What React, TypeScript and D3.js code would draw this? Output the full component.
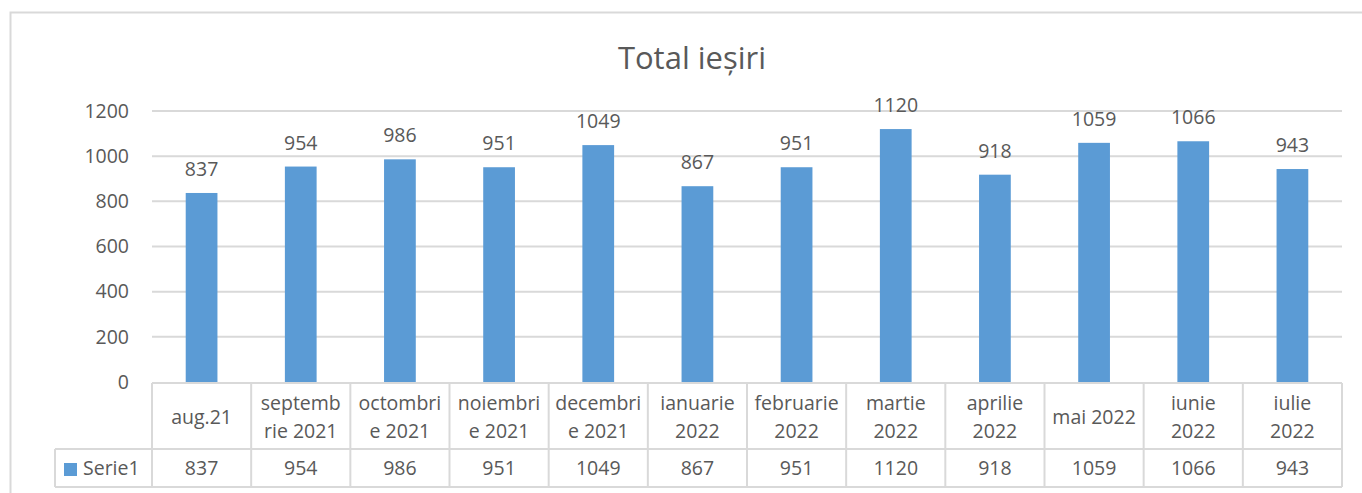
import React from "react";
import * as d3 from "d3";

const title = "Total ieșiri";
const categories: string[][] = [
  ["aug.21"],
  ["septemb", "rie 2021"],
  ["octombri", "e 2021"],
  ["noiembri", "e 2021"],
  ["decembri", "e 2021"],
  ["ianuarie", "2022"],
  ["februarie", "2022"],
  ["martie", "2022"],
  ["aprilie", "2022"],
  ["mai 2022"],
  ["iunie", "2022"],
  ["iulie", "2022"],
];
const values = [837, 954, 986, 951, 1049, 867, 951, 1120, 918, 1059, 1066, 943];
const seriesName = "Serie1";
const yTicks = [0, 200, 400, 600, 800, 1000, 1200];

const W = 1362;
const H = 493;
const FONT = "Open Sans, sans-serif";
const TXT = "#595959";
const GRID = "#D9D9D9";
const BAR = "#5B9BD5";

export default function App() {
  const left = 152;
  const right = 1342;
  const top = 111;
  const bottom = 382;
  const x = d3
    .scaleBand<number>()
    .domain(d3.range(categories.length))
    .range([left, right])
    .paddingInner(0.68)
    .paddingOuter(0.34);
  const xc = d3.scaleBand<number>().domain(d3.range(categories.length)).range([left, right]);
  const y = d3.scaleLinear().domain([0, 1200]).range([bottom, top]);
  const rowMid = 449;
  const rowBot = 487;
  const legLeft = 55;
  const fs = 19.5;

  return (
    <svg
      width={W}
      height={H}
      style={{ position: "absolute", left: 0, top: 0, background: "#fff" }}
      fontFamily={FONT}
    >
      <rect x={10.5} y={12.5} width={W} height={H} fill="#fff" stroke={GRID} strokeWidth={2} />
      <text x={692} y={69} textAnchor="middle" fontSize={31} fill={TXT}>
        {title}
      </text>
      {yTicks.map((t) => (
        <g key={t}>
          {t > 0 && (
            <line x1={left} x2={right} y1={y(t)} y2={y(t)} stroke={GRID} strokeWidth={2} />
          )}
          <text x={129} y={y(t)} dy="0.35em" textAnchor="end" fontSize={fs} fill={TXT}>
            {t}
          </text>
        </g>
      ))}
      {values.map((v, i) => (
        <g key={i}>
          <rect x={x(i)} y={y(v)} width={x.bandwidth()} height={bottom - y(v)} fill={BAR} />
          <text
            x={x(i)! + x.bandwidth() / 2}
            y={y(v) - 17}
            textAnchor="middle"
            fontSize={fs}
            fill={TXT}
          >
            {v}
          </text>
        </g>
      ))}
      {/* table */}
      <g stroke={GRID} strokeWidth={2} fill="none">
        <line x1={left} x2={right} y1={bottom + 1} y2={bottom + 1} />
        <line x1={legLeft} x2={right} y1={rowMid} y2={rowMid} />
        <line x1={legLeft} x2={right} y1={rowBot} y2={rowBot} />
        <line x1={legLeft} x2={legLeft} y1={rowMid} y2={rowBot} />
        {d3.range(categories.length + 1).map((i) => {
          const xx = i < categories.length ? xc(i)! : right;
          return <line key={i} x1={xx} x2={xx} y1={bottom + 1} y2={rowBot} />;
        })}
      </g>
      {categories.map((lines, i) => {
        const cx = xc(i)! + xc.bandwidth() / 2;
        const mid = 417;
        const lh = 28;
        return (
          <text key={i} x={cx} textAnchor="middle" fontSize={fs} fill={TXT}>
            {lines.map((l, j) => (
              <tspan key={j} x={cx} y={mid + (j - (lines.length - 1) / 2) * lh} dy="0.35em">
                {l}
              </tspan>
            ))}
          </text>
        );
      })}
      {values.map((v, i) => (
        <text
          key={i}
          x={xc(i)! + xc.bandwidth() / 2}
          y={468}
          dy="0.35em"
          textAnchor="middle"
          fontSize={fs}
          fill={TXT}
        >
          {v}
        </text>
      ))}
      <rect x={64} y={463} width={13} height={13} fill={BAR} />
      <text x={83} y={468} dy="0.35em" fontSize={fs} fill={TXT}>
        {seriesName}
      </text>
    </svg>
  );
}
